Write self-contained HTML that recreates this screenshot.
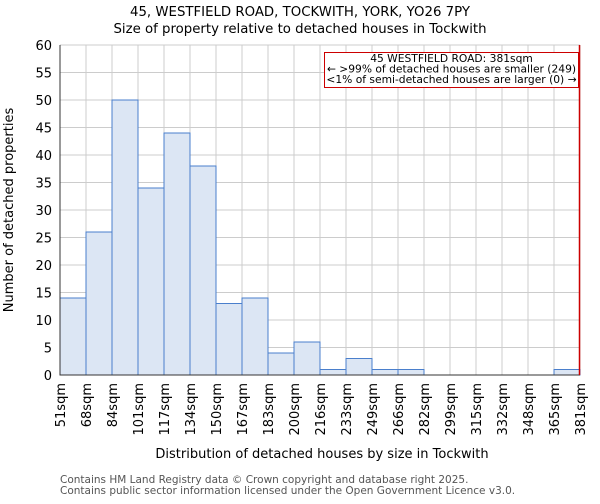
<!DOCTYPE html>
<html><head><meta charset="utf-8"><style>
body{margin:0;background:#fff;font-family:"DejaVu Sans","Liberation Sans",sans-serif}
</style></head><body>
<svg id="chart" width="600" height="500" xmlns="http://www.w3.org/2000/svg" font-family="DejaVu Sans, Liberation Sans, sans-serif">
<text x="300" y="16" text-anchor="middle" font-size="13.3">45, WESTFIELD ROAD, TOCKWITH, YORK, YO26 7PY</text>
<text x="300" y="33" text-anchor="middle" font-size="13.3">Size of property relative to detached houses in Tockwith</text>
<g id="grid"></g><g id="bars"></g><g id="axes"></g>
<text x="322" y="458" text-anchor="middle" font-size="13">Distribution of detached houses by size in Tockwith</text>
<text transform="translate(13,210) rotate(-90)" text-anchor="middle" font-size="13">Number of detached properties</text>
<text x="60" y="483" font-size="10.5" fill="#555">Contains HM Land Registry data © Crown copyright and database right 2025.</text>
<text x="60" y="494" font-size="10.5" fill="#555">Contains public sector information licensed under the Open Government Licence v3.0.</text>
</svg>
<script>
const categories=["51sqm","68sqm","84sqm","101sqm","117sqm","134sqm","150sqm","167sqm","183sqm","200sqm","216sqm","233sqm","249sqm","266sqm","282sqm","299sqm","315sqm","332sqm","348sqm","365sqm","381sqm"];
const counts=[14,26,50,34,44,38,13,14,4,6,1,3,1,1,0,0,0,0,0,1];
const yTicks=[0,5,10,15,20,25,30,35,40,45,50,55,60];
const markerIndex=20;
const NS="http://www.w3.org/2000/svg";
const L=60,R=580,T=45,B=375,yMax=60;
const bw=(R-L)/counts.length;
const xs=i=>L+i*bw, ys=v=>B-(B-T)*v/yMax;
function mk(tag,attrs,parent){const e=document.createElementNS(NS,tag);for(const k in attrs)e.setAttribute(k,attrs[k]);parent.appendChild(e);return e;}
const grid=document.getElementById('grid'),bars=document.getElementById('bars'),axes=document.getElementById('axes');
yTicks.forEach(t=>{const l=mk('line',{x1:L,x2:R,y1:ys(t),y2:ys(t),stroke:'#ccc'},grid);


const tx=mk('text',{x:L-8,y:ys(t)+5,'text-anchor':'end','font-size':13},axes);tx.textContent=t;

});
categories.forEach((c,i)=>{const x=xs(i);const l=mk('line',{x1:x,x2:x,y1:T,y2:B,stroke:'#ccc'},grid);


const tx=mk('text',{transform:`translate(${x+5},${B+8}) rotate(-90)`,'text-anchor':'end','font-size':13},axes);tx.textContent=c;

});
counts.forEach((v,i)=>{if(v<=0)return;const r=mk('rect',{x:xs(i),y:ys(v),width:bw,height:B-ys(v),fill:'#dce6f4',stroke:'#4a7fcc','stroke-width':1},bars);

});
const ax=mk('path',{d:`M${L},${T}V${B}H${R}`,fill:'none',stroke:'#333'},axes);


const mx=xs(markerIndex)-0.5;
const ml=mk('line',{x1:mx,x2:mx,y1:T,y2:B,stroke:'#cc0000','stroke-width':1.5},axes);


const box=mk('rect',{x:324.5,y:52.5,width:254,height:35,fill:'#fff',stroke:'#cc0000'},axes);


["45 WESTFIELD ROAD: 381sqm","← >99% of detached houses are smaller (249)","<1% of semi-detached houses are larger (0) →"].forEach((s,k)=>{
const t=mk('text',{x:451.5,y:62+k*10.5,'text-anchor':'middle','font-size':10.7},axes);t.textContent=s;

});
</script>
</body></html>
